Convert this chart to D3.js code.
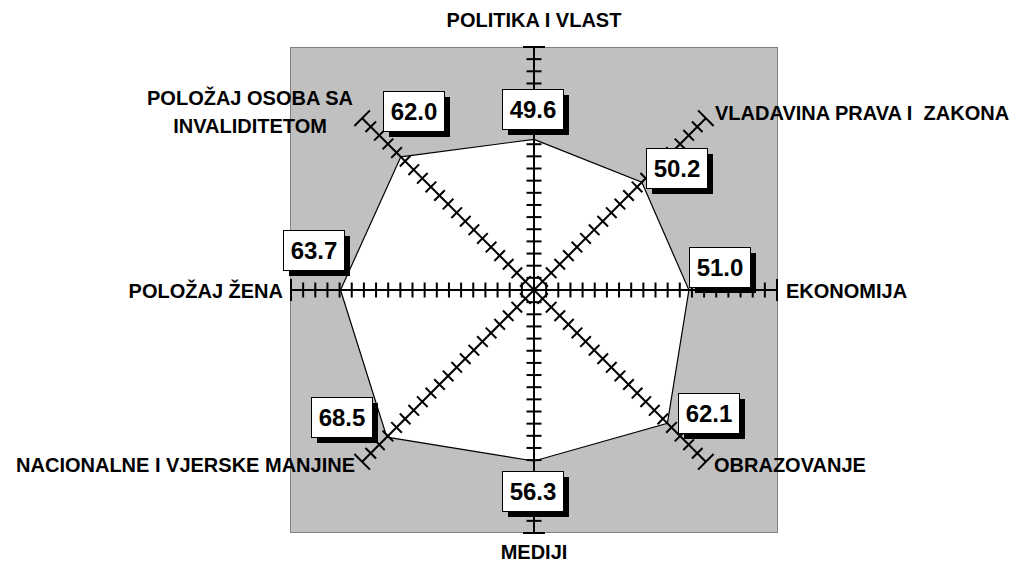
<!DOCTYPE html>
<html>
<head>
<meta charset="utf-8">
<script src="https://cdn.jsdelivr.net/npm/d3@7"></script>
<style>
  html, body { margin: 0; padding: 0; background: #ffffff; }
  svg { display: block; }
  text { font-family: "Liberation Sans", Arial, sans-serif; font-weight: bold; }
</style>
</head>
<body>
<svg id="chart" width="1032" height="565"></svg>
<script>
// ---- data ----
const categories = [
  "POLITIKA I VLAST",
  "VLADAVINA PRAVA I  ZAKONA",
  "EKONOMIJA",
  "OBRAZOVANJE",
  "MEDIJI",
  "NACIONALNE I VJERSKE MANJINE",
  "POLOŽAJ ŽENA",
  "POLOŽAJ OSOBA SA\nINVALIDITETOM"
];
const values = [49.6, 50.2, 51.0, 62.1, 56.3, 68.5, 63.7, 62.0];
const axisMin = 0;
const axisMax = 80;
const tickStep = 4;

// ---- layout ----
const svg = d3.select("#chart");
const cx = 534, cy = 290, R = 243;
const plot = { x0: 290, y0: 47, x1: 777, y1: 532 };

const r = d3.scaleLinear().domain([axisMin, axisMax]).range([0, R]);
const angle = d3.scaleLinear().domain([0, categories.length]).range([0, 2 * Math.PI]);
const pt = (i, v) => {
  const a = angle(i);
  return [cx + r(v) * Math.sin(a), cy - r(v) * Math.cos(a)];
};

// plot area
svg.append("rect")
  .attr("x", plot.x0 + 0.5).attr("y", plot.y0 + 0.5)
  .attr("width", plot.x1 - plot.x0).attr("height", plot.y1 - plot.y0)
  .attr("fill", "#c0c0c0").attr("stroke", "#808080").attr("stroke-width", 1);

// polygon
const line = d3.lineRadial()
  .angle((d, i) => angle(i))
  .radius(d => r(d))
  .curve(d3.curveLinearClosed);
svg.append("path")
  .attr("transform", `translate(${cx},${cy})`)
  .attr("d", line(values))
  .attr("fill", "#ffffff").attr("stroke", "#000").attr("stroke-width", 1.2);

// axes with ticks
const ticks = d3.range(axisMin + tickStep, axisMax + 0.001, tickStep);
categories.forEach((c, i) => {
  const a = angle(i);
  const g = svg.append("g")
    .attr("transform", `translate(${cx},${cy}) rotate(${a * 180 / Math.PI})`);
  g.append("line").attr("x1", 0).attr("y1", 0).attr("x2", 0).attr("y2", -r(axisMax))
    .attr("stroke", "#000").attr("stroke-width", 2);
  g.selectAll("line.tick").data(ticks).enter().append("line")
    .attr("class", "tick")
    .attr("x1", d => d === axisMax ? -11 : -7.5)
    .attr("x2", d => d === axisMax ? 11 : 7.5)
    .attr("y1", d => -r(d)).attr("y2", d => -r(d))
    .attr("stroke", "#000").attr("stroke-width", 2);
});

// data labels (boxes with shadow)
const boxW = 61, boxH = 40;
const labelOffsets = [
  [-2, -30], [35, -14], [31, -23], [41, -10],
  [-2, 30], [-45, -20], [-27, -40], [13, -46]
];
values.forEach((v, i) => {
  const [px, py] = pt(i, v);
  const bx = Math.round(px + labelOffsets[i][0] - boxW / 2);
  const by = Math.round(py + labelOffsets[i][1] - boxH / 2);
  svg.append("rect").attr("x", bx + 6).attr("y", by + 6)
    .attr("width", boxW).attr("height", boxH).attr("fill", "#000");
  svg.append("rect").attr("x", bx + 0.5).attr("y", by + 0.5)
    .attr("width", boxW).attr("height", boxH)
    .attr("fill", "#fff").attr("stroke", "#000").attr("stroke-width", 1);
  svg.append("text").attr("x", bx + boxW / 2 + 0.5).attr("y", by + boxH / 2 + 9)
    .attr("text-anchor", "middle").attr("font-size", 24)
    .text(v.toFixed(1));
});

// category labels
const catPos = [
  { x: 534, y: 27, anchor: "middle" },
  { x: 715, y: 120, anchor: "start" },
  { x: 786, y: 298, anchor: "start" },
  { x: 714, y: 472, anchor: "start" },
  { x: 534, y: 559, anchor: "middle" },
  { x: 355, y: 472, anchor: "end" },
  { x: 283, y: 298, anchor: "end" },
  { x: 250, y: 105, anchor: "middle" }
];
categories.forEach((c, i) => {
  const p = catPos[i];
  const t = svg.append("text").attr("x", p.x).attr("y", p.y)
    .attr("text-anchor", p.anchor).attr("font-size", 20)
    .style("white-space", "pre");
  c.split("\n").forEach((ln, k) => {
    t.append("tspan").attr("x", p.x).attr("dy", k === 0 ? 0 : 28).text(ln);
  });
});
</script>
</body>
</html>
